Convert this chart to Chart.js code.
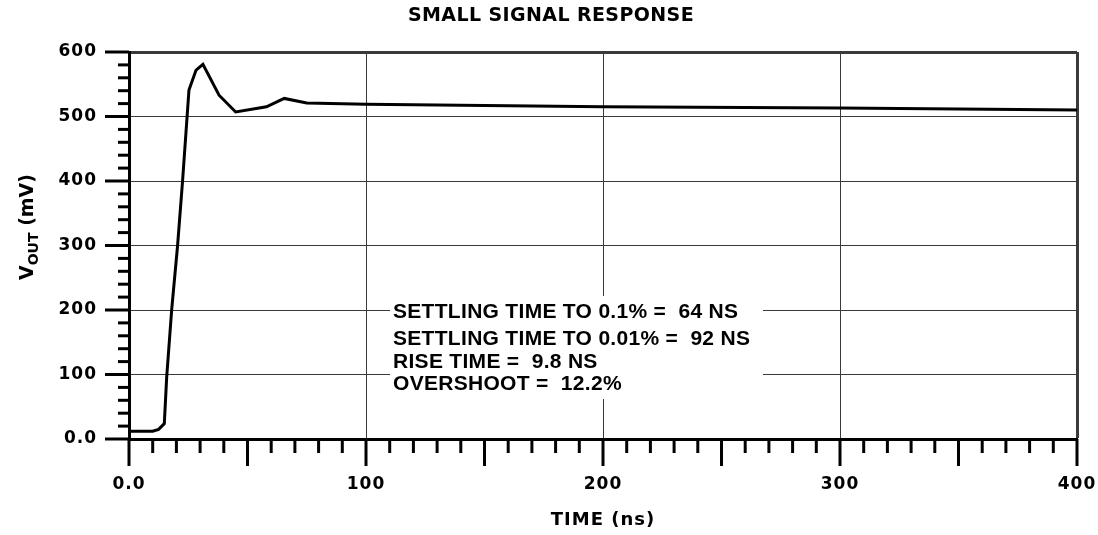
<!DOCTYPE html>
<html lang="en">
<head>
  <meta charset="UTF-8">
  <title>Small Signal Response</title>
  <script src="https://cdn.jsdelivr.net/npm/chart.js"></script>
  <style>
    html, body { margin: 0; padding: 0; background: #fff; }
    #wrap { width: 1098px; height: 535px; }
  </style>
</head>
<body>
<div id="wrap"><canvas id="responseChart"></canvas></div>
<script>
  // values
  const timeNs = [0, 10, 12.5, 14.9, 15.9, 18.0, 20.5, 22.6, 25.3, 28.3, 31.2, 38, 45, 58, 65.5, 75, 100, 200, 300, 400];
  const voutMv = [12, 12, 15, 24, 96, 200, 300, 400, 541, 572, 581, 533, 507, 515, 528, 521, 519, 515, 513, 510];
  const xTickValues = [0, 100, 200, 300, 400];
  const yTickValues = [0, 100, 200, 300, 400, 500, 600];
  const notes = [
    'SETTLING TIME TO 0.1% =  64 NS',
    'SETTLING TIME TO 0.01% =  92 NS',
    'RISE TIME =  9.8 NS',
    'OVERSHOOT =  12.2%'
  ];

  const fmt = v => v === 0 ? '0.0' : String(v);

  // title, y title with subscript, tick marks, note box
  const decorations = {
    id: 'decorations',
    beforeDraw(chart) {
      chart.ctx.letterSpacing = '1px';
    },
    afterDatasetsDraw(chart) {
      const ctx = chart.ctx;
      const x = chart.scales.x, y = chart.scales.y;
      const area = chart.chartArea;
      ctx.save();

      // note box blanks the grid behind the text
      ctx.fillStyle = '#fff';
      ctx.fillRect(390, 296, 373, 103);
      ctx.fillStyle = '#000';
      ctx.font = 'bold 21px "Liberation Sans", Arial, sans-serif';
      ctx.letterSpacing = '0.3px';
      ctx.textAlign = 'left';
      ctx.textBaseline = 'alphabetic';
      const lineY = [318, 345, 368, 390];
      notes.forEach((t, i) => ctx.fillText(t, 393, lineY[i]));

      // tick marks
      ctx.letterSpacing = '0px';
      ctx.strokeStyle = '#000';
      ctx.lineWidth = 3;
      ctx.lineCap = 'butt';
      for (let v = 0; v <= 600; v += 20) {
        const py = y.getPixelForValue(v);
        const len = v % 100 === 0 ? 24 : 11;
        ctx.beginPath();
        ctx.moveTo(area.left - len, py);
        ctx.lineTo(area.left, py);
        ctx.stroke();
      }
      for (let t = 0; t <= 400; t += 10) {
        const px = x.getPixelForValue(t);
        const len = t % 50 === 0 ? 27 : 14;
        ctx.beginPath();
        ctx.moveTo(px, area.bottom);
        ctx.lineTo(px, area.bottom + len);
        ctx.stroke();
      }

      // chart title
      ctx.font = 'bold 19px "DejaVu Sans", sans-serif';
      ctx.letterSpacing = '0.4px';
      ctx.textAlign = 'center';
      ctx.textBaseline = 'middle';
      ctx.fillText('SMALL SIGNAL RESPONSE', 551, 16);

      // y axis title: V with OUT subscript
      ctx.letterSpacing = '0px';
      ctx.translate(33, 227);
      ctx.rotate(-Math.PI / 2);
      ctx.textAlign = 'left';
      ctx.textBaseline = 'alphabetic';
      const big = 'bold 19px "DejaVu Sans", sans-serif';
      const small = 'bold 14px "DejaVu Sans", sans-serif';
      ctx.font = big;
      const wV = ctx.measureText('V').width;
      ctx.font = small;
      const wSub = ctx.measureText('OUT').width;
      ctx.font = big;
      const wRest = ctx.measureText(' (mV)').width;
      let cx = -(wV + wSub + wRest) / 2;
      ctx.fillText('V', cx, 0);
      cx += wV;
      ctx.font = small;
      ctx.fillText('OUT', cx, 5);
      cx += wSub;
      ctx.font = big;
      ctx.fillText(' (mV)', cx, 0);

      ctx.restore();
    }
  };

  const tickFont = { family: '"DejaVu Sans", sans-serif', size: 17, weight: 'bold' };

  new Chart(document.getElementById('responseChart'), {
    type: 'line',
    data: {
      datasets: [{
        data: timeNs.map((t, i) => ({ x: t, y: voutMv[i] })),
        borderColor: '#000',
        borderWidth: 3,
        pointRadius: 0,
        tension: 0,
        fill: false
      }]
    },
    options: {
      responsive: true,
      maintainAspectRatio: false,
      animation: false,
      devicePixelRatio: 1,
      layout: { padding: { top: 52, right: 21, left: 0, bottom: 0 } },
      plugins: { legend: { display: false }, tooltip: { enabled: false }, title: { display: false } },
      scales: {
        x: {
          type: 'linear',
          min: 0,
          max: 400,
          afterFit: s => { s.height = 96; s.paddingLeft = 0; s.paddingRight = 0; },
          afterBuildTicks: s => { s.ticks = xTickValues.map(v => ({ value: v })); },
          ticks: { callback: fmt, color: '#000', font: tickFont, padding: 35, maxRotation: 0 },
          grid: {
            drawTicks: false,
            color: '#3a3a3a',
            lineWidth: c => (c.tick && c.tick.value === 400 ? 3 : 1)
          },
          border: { display: true, color: '#000', width: 3 },
          title: {
            display: true,
            text: 'TIME (ns)',
            color: '#000',
            font: { family: '"DejaVu Sans", sans-serif', size: 18, weight: 'bold' },
            padding: { top: 0, bottom: 4 }
          }
        },
        y: {
          min: 0,
          max: 600,
          afterFit: s => { s.width = 129; s.paddingTop = 0; s.paddingBottom = 0; },
          afterBuildTicks: s => { s.ticks = yTickValues.map(v => ({ value: v })); },
          ticks: { callback: fmt, color: '#000', font: tickFont, padding: 32 },
          grid: {
            drawTicks: false,
            color: '#3a3a3a',
            lineWidth: c => (c.tick && c.tick.value === 600 ? 3 : 1)
          },
          border: { display: true, color: '#000', width: 3 }
        }
      }
    },
    plugins: [decorations]
  });
</script>
</body>
</html>
